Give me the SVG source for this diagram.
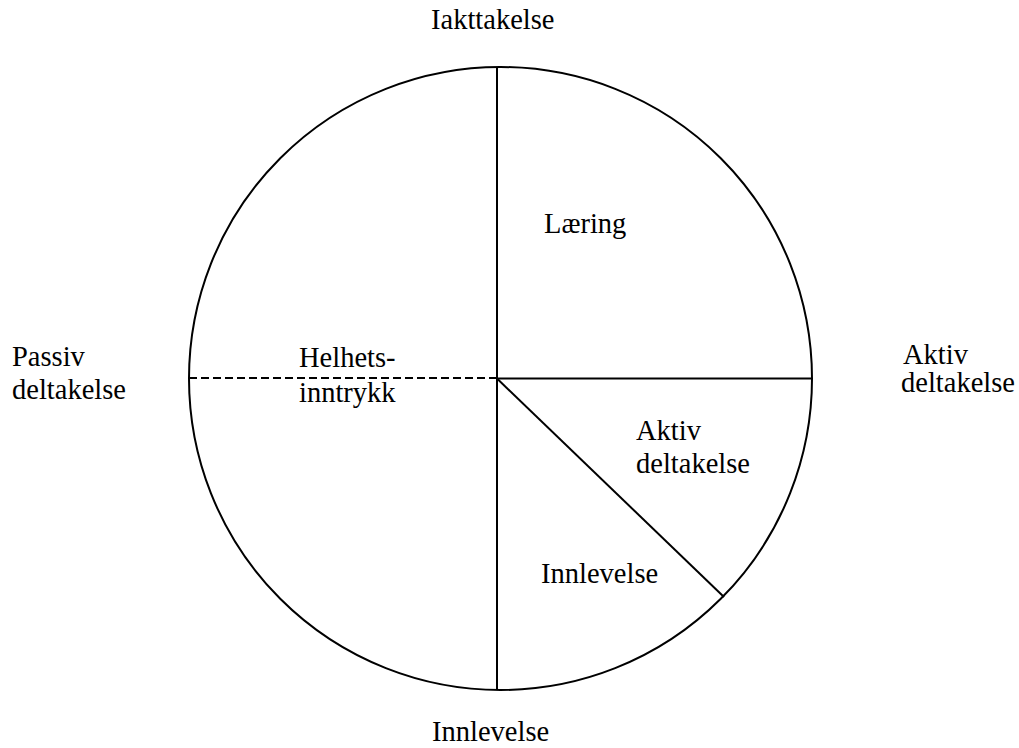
<svg xmlns="http://www.w3.org/2000/svg" width="1019" height="748" viewBox="0 0 1019 748">
<style>
text{font-family:"Liberation Serif","Times New Roman",serif;font-size:28.5px;fill:#000}
.ln{stroke:#000;stroke-width:2;fill:none}
</style>
<rect width="1019" height="748" fill="#fff"/>
<g id="circle"><ellipse class="ln" cx="500.5" cy="378.5" rx="311.5" ry="311.5"/></g>
<g id="connectors">
<line class="ln" x1="497" y1="67" x2="497" y2="690"/>
<line class="ln" x1="497" y1="378.5" x2="812" y2="378.5"/>
<line class="ln" x1="497" y1="378.5" x2="724" y2="597"/>
<line class="ln" x1="189" y1="378" x2="497" y2="378" stroke-dasharray="8,4"/>
</g>
<g id="labels">
<text x="431" y="29">Iakttakelse</text>
<text x="432" y="741">Innlevelse</text>
<text x="12" y="366">Passiv</text>
<text x="12" y="399">deltakelse</text>
<text x="903" y="364">Aktiv</text>
<text x="901" y="392">deltakelse</text>
</g>
<g id="laering"><text x="544" y="233">Læring</text></g>
<g id="helhet"><text x="299" y="367">Helhets-</text><text x="299" y="402">inntrykk</text></g>
<g id="aktiv"><text x="636" y="440">Aktiv</text><text x="636" y="473">deltakelse</text></g>
<g id="innlevelse"><text x="541" y="583">Innlevelse</text></g>
</svg>
